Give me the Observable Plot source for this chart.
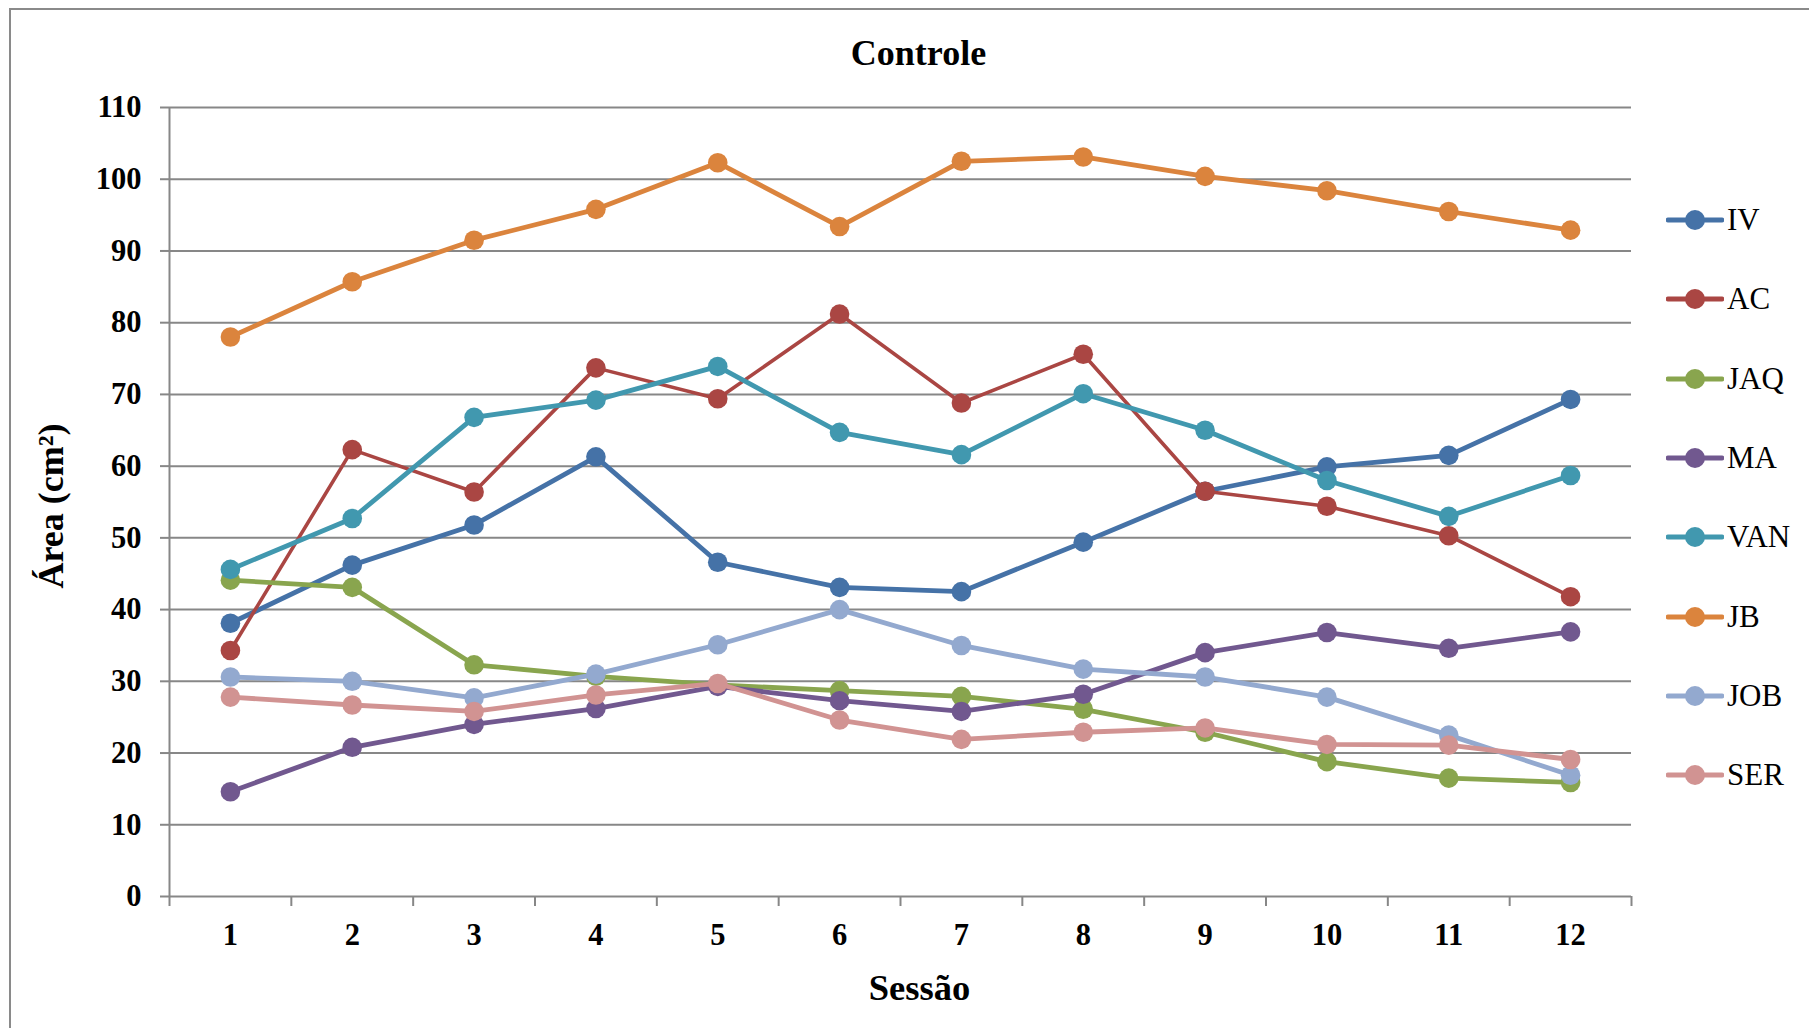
<!DOCTYPE html>
<html>
<head>
<meta charset="utf-8">
<script src="https://cdn.jsdelivr.net/npm/d3@7"></script>
<script src="https://cdn.jsdelivr.net/npm/@observablehq/plot@0.6"></script>
<style>
  html, body { margin: 0; padding: 0; background: #fff; overflow: hidden; }
  #wrap { position: relative; width: 1809px; height: 1028px; overflow: hidden; }
  #border { position: absolute; left: 9px; top: 8px; width: 2000px; height: 2000px;
            border-left: 2px solid #8a8a8a; border-top: 2px solid #8a8a8a; box-sizing: border-box; }
  #chart { position: absolute; left: 0; top: 0; }
  .leg { position: absolute; left: 1666px; height: 40px; display: flex; align-items: center;
         font-family: "Liberation Serif", "Times New Roman", serif; font-size: 31px; color: #000; }
  .leg span { margin-left: 3px; }
</style>
</head>
<body>
<div id="wrap">
  <div id="border"></div>
  <div id="chart"></div>
</div>
<script>
// ---- data ----
const sessions = [1, 2, 3, 4, 5, 6, 7, 8, 9, 10, 11, 12];
const seriesNames = ["IV", "AC", "JAQ", "MA", "VAN", "JB", "JOB", "SER"];
const seriesColors = ["#4572A7", "#AA4643", "#89A54E", "#71588F", "#4198AF", "#DB843D", "#93A9CF", "#D19392"];

const IV  = [38.1, 46.2, 51.8, 61.3, 46.6, 43.1, 42.5, 49.4, 56.5, 59.9, 61.5, 69.3];
const AC  = [34.3, 62.3, 56.4, 73.7, 69.4, 81.2, 68.8, 75.6, 56.5, 54.4, 50.3, 41.8];
const JAQ = [44.1, 43.1, 32.3, 30.7, 29.5, 28.7, 27.9, 26.1, 22.9, 18.8, 16.5, 15.9];
const MA  = [14.6, 20.8, 24.0, 26.2, 29.3, 27.3, 25.8, 28.2, 34.0, 36.8, 34.6, 36.9];
const VAN = [45.6, 52.7, 66.8, 69.2, 73.9, 64.7, 61.6, 70.1, 65.0, 58.0, 53.0, 58.7];
const JB  = [78.0, 85.7, 91.5, 95.8, 102.3, 93.4, 102.5, 103.1, 100.4, 98.4, 95.5, 92.9];
const JOB = [30.6, 30.0, 27.7, 31.0, 35.1, 40.0, 35.0, 31.7, 30.6, 27.8, 22.5, 16.9];
const SER = [27.8, 26.7, 25.8, 28.1, 29.7, 24.6, 21.9, 22.9, 23.5, 21.2, 21.1, 19.1];

const yTicks = [0, 10, 20, 30, 40, 50, 60, 70, 80, 90, 100, 110];
const titleText = "Controle";
const xLabel = "Sessão";
const yLabel = "Área (cm²)";

// ---- build table ----
const seriesValues = [IV, AC, JAQ, MA, VAN, JB, JOB, SER];
const rows = [];
seriesNames.forEach((name, k) => {
  sessions.forEach((s, i) => rows.push({serie: name, sessao: s, area: seriesValues[k][i]}));
});
const boundaries = sessions.map(s => s - 0.5).concat([sessions[sessions.length - 1] + 0.5]);

const grey = "#878787";
const serif = "'Liberation Serif', 'Times New Roman', serif";

const seriesMarks = [];
seriesNames.forEach((name) => {
  const d = rows.filter(r => r.serie === name);
  seriesMarks.push(Plot.line(d, {x: "sessao", y: "area", stroke: "serie", strokeWidth: name === "AC" ? 3.6 : 4.8, strokeLinejoin: "round"}));
  seriesMarks.push(Plot.dot(d, {x: "sessao", y: "area", fill: "serie", r: 9.8}));
});

const chart = Plot.plot({
  width: 1809,
  height: 1028,
  marginLeft: 169,
  marginRight: 178,
  marginTop: 107,
  marginBottom: 132,
  style: {fontFamily: serif, fontSize: "30.5px", fontWeight: "bold", background: "transparent", color: "#000"},
  x: {domain: [boundaries[0], boundaries[boundaries.length - 1]]},
  y: {domain: [0, 110]},
  color: {domain: seriesNames, range: seriesColors},
  marks: [
    Plot.gridY(yTicks, {stroke: grey, strokeOpacity: 1, strokeWidth: 2}),
    Plot.ruleX([boundaries[0]], {stroke: grey, strokeWidth: 2}),
    Plot.axisY(yTicks, {tickSize: 9, tickPadding: 19, stroke: grey, strokeWidth: 2, label: null, tickFormat: d => String(d)}),
    Plot.axisX(boundaries, {tickSize: 10, stroke: grey, strokeWidth: 2, tickFormat: () => "", label: null}),
    Plot.axisX(sessions, {tickSize: 0, tickPadding: 27, label: null, tickFormat: d => String(d)}),
    ...seriesMarks,
    Plot.text([titleText], {frameAnchor: "top", dx: 18, dy: -54.5, fontSize: 36, fontWeight: "bold", lineAnchor: "middle"}),
    Plot.text([xLabel], {frameAnchor: "bottom", dx: 19, dy: 92, fontSize: 36.5, fontWeight: "bold", lineAnchor: "middle"}),
    Plot.text([yLabel], {frameAnchor: "left", textAnchor: "middle", dx: -118, dy: 4, rotate: -90, fontSize: 36, fontWeight: "bold", lineAnchor: "middle"})
  ]
});
document.getElementById("chart").appendChild(chart);

// ---- legend ----
const wrap = document.getElementById("wrap");
seriesNames.forEach((name, i) => {
  const yc = 220 + i * 79.3;
  const div = document.createElement("div");
  div.className = "leg";
  div.style.top = (yc - 20) + "px";
  const c = seriesColors[i];
  div.innerHTML = `<svg width="58" height="24"><line x1="2" x2="56" y1="12" y2="12" stroke="${c}" stroke-width="4.8" stroke-linecap="round"/><circle cx="29" cy="12" r="10" fill="${c}"/></svg><span>${name}</span>`;
  wrap.appendChild(div);
});
</script>
</body>
</html>
